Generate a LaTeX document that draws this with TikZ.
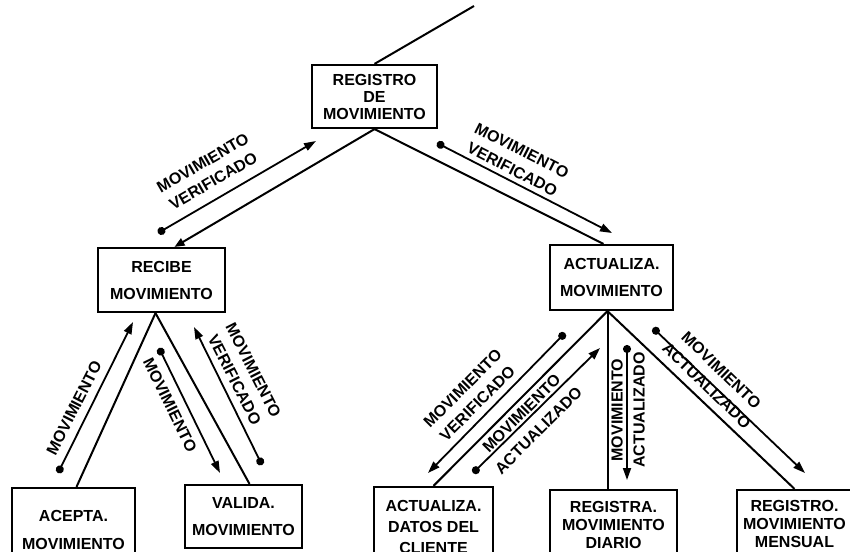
\documentclass[tikz,border=0pt]{standalone}
\usepackage{fontspec}
\setmainfont{Liberation Sans}
\usetikzlibrary{arrows.meta}
\begin{document}
\begin{tikzpicture}[x=1pt,y=-1pt,
  box/.style={draw, line width=2.2pt, align=center, inner sep=0pt,
    font=\bfseries\fontsize{16}{#1}\selectfont},
  box/.default=18,
  link/.style={line width=2pt},
  calltip/.style={link, -{Triangle[length=10pt,width=8pt]}},
  flow/.style={line width=1.8pt,
    {Circle[length=8pt]}-{Triangle[length=12pt,width=8pt]}},
  lbl/.style={align=center, inner sep=0pt,
    font=\bfseries\fontsize{16}{#1}\selectfont},
  lbl/.default=21
]
\useasboundingbox (0,0) rectangle (850,551);
\clip (0,0) rectangle (850,551);

% ---- modules ----
\node[box=17, minimum width=125pt, minimum height=63pt] (top) at (374.5,96.5)
  {REGISTRO\\DE\\MOVIMIENTO};
\node[box=27, minimum width=127pt, minimum height=64pt] (recibe) at (161.5,280)
  {RECIBE\\MOVIMIENTO};
\node[box=27, minimum width=123pt, minimum height=65pt] (actmov) at (611.5,277.5)
  {ACTUALIZA.\\MOVIMIENTO};

\node[box=28, minimum width=123pt, minimum height=84pt] (acepta) at (73.5,530)
  {ACEPTA.\\MOVIMIENTO};
\node[box=27, minimum width=117pt, minimum height=63pt] (valida) at (243.5,516.5)
  {VALIDA.\\MOVIMIENTO};
\node[box=21, minimum width=119pt, minimum height=80pt] (actdat) at (433.5,527)
  {ACTUALIZA.\\DATOS DEL\\CLIENTE};
\node[box=18, minimum width=127pt, minimum height=70pt] (diario) at (613.5,525)
  {REGISTRA.\\MOVIMIENTO\\DIARIO};
\node[box=18, minimum width=115pt, minimum height=68pt] (mensual) at (794.5,524)
  {REGISTRO.\\MOVIMIENTO\\MENSUAL};

% ---- calls ----
\coordinate (entry) at (474,6);
\draw[link] (top.north) -- (entry);
\draw[calltip] (top.south) -- ([xshift=13pt]recibe.north);
\draw[link] (top.south) -- ([xshift=-8pt]actmov.north);
\draw[link] ([xshift=-6pt]recibe.south) -- ([xshift=3pt]acepta.north);
\draw[link] ([xshift=-6pt]recibe.south) -- ([xshift=6pt]valida.north);
\draw[link] ([xshift=-4pt]actmov.south) -- (actdat.north);
\draw[link] ([xshift=-4pt]actmov.south) -- ([xshift=-6pt]diario.north);
\draw[link] ([xshift=-4pt]actmov.south) -- (mensual.north);

% ---- data couples ----
\coordinate (a1) at (158,233); \coordinate (b1) at (316,141);
\coordinate (a2) at (437,143); \coordinate (b2) at (612,233);
\coordinate (a3) at (58,473);  \coordinate (b3) at (133,322);
\coordinate (a4) at (159,348); \coordinate (b4) at (220,473);
\coordinate (a5) at (262,465); \coordinate (b5) at (194,327);
\coordinate (a6) at (565,333); \coordinate (b6) at (428,473);
\coordinate (a7) at (473,473); \coordinate (b7) at (600,348);
\coordinate (a8) at (627,345); \coordinate (b8) at (627,480);
\coordinate (a9) at (653,328); \coordinate (b9) at (805,473);
\foreach \i in {1,...,9} \draw[flow] (a\i) -- (b\i);

\node[lbl, rotate=30]  (l1) at (208,172) {MOVIMIENTO\\VERIFICADO};
\node[lbl, rotate=-27] (l2) at (517,160) {MOVIMIENTO\\VERIFICADO};
\node[lbl, rotate=63]  (l3) at (74,408)  {MOVIMIENTO};
\node[lbl, rotate=-64] (l4) at (170,405) {MOVIMIENTO};
\node[lbl, rotate=-63] (l5) at (244,375) {MOVIMIENTO\\VERIFICADO};
\node[lbl, rotate=45]  (l6) at (470,396) {MOVIMIENTO\\VERIFICADO};
\node[lbl=24, rotate=45]  (l7) at (530,422) {MOVIMIENTO\\ACTUALIZADO};
\node[lbl=22, rotate=90]  (l8) at (628,410) {MOVIMIENTO\\ACTUALIZADO};
\node[lbl, rotate=-44] (l9) at (714,378) {MOVIMIENTO\\ACTUALIZADO};
\end{tikzpicture}
\end{document}
